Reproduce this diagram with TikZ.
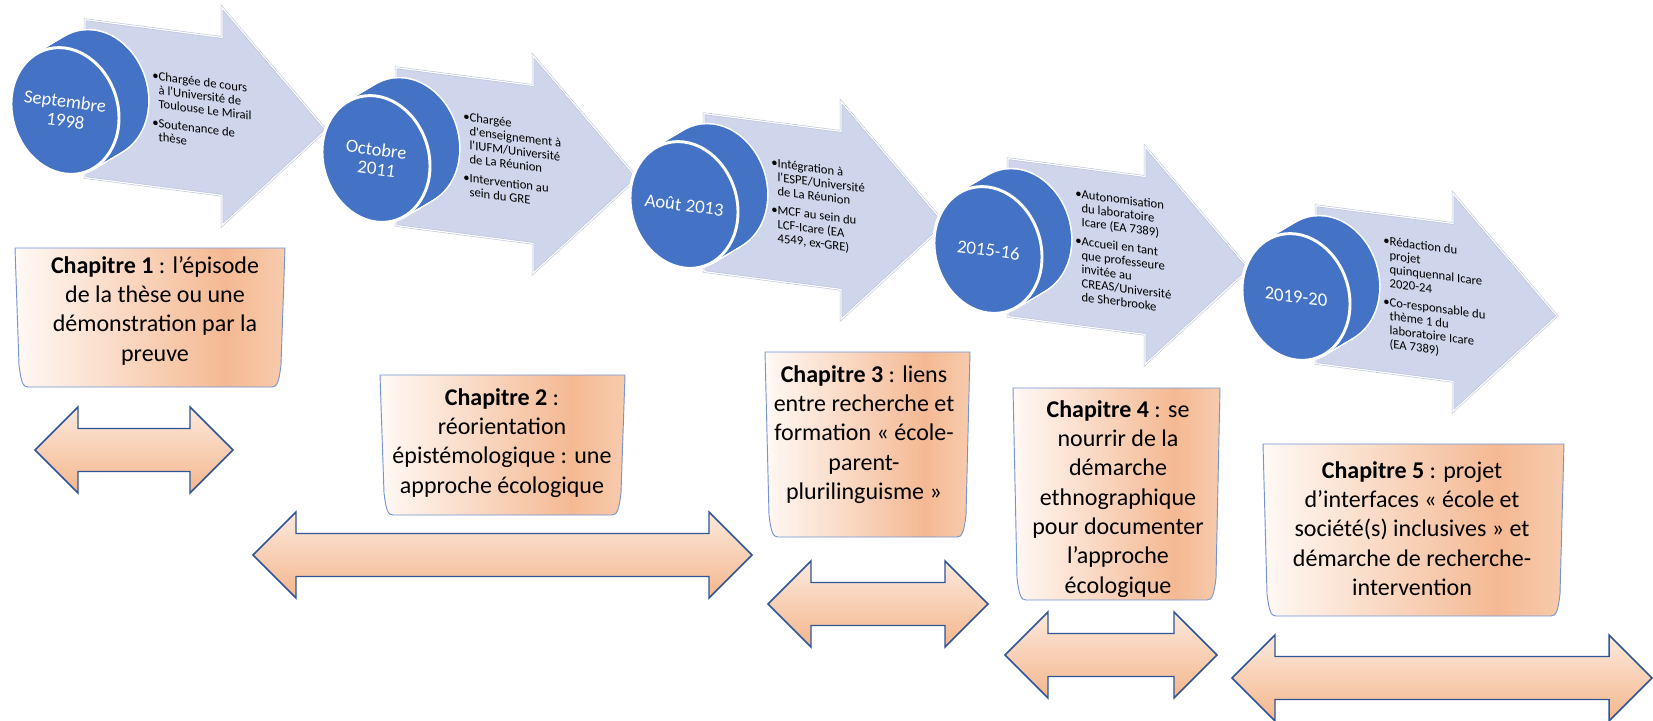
\documentclass[tikz,border=0pt]{standalone}
\usepackage{fontspec}
\setmainfont{Carlito}
\usetikzlibrary{calc,positioning}
\definecolor{discblue}{HTML}{4472C4}
\definecolor{stepfill}{HTML}{CFD5EA}
\definecolor{stepedge}{HTML}{B9C1D9}
\definecolor{chapA}{HTML}{FFF9F5}
\definecolor{chapB}{HTML}{F4B993}
\definecolor{chapC}{HTML}{F7CBAD}
\definecolor{chapline}{HTML}{7395D3}
\definecolor{spanA}{HTML}{FCE9DD}
\definecolor{spanB}{HTML}{F4B68C}
\definecolor{spanline}{HTML}{2F5597}
\pgfdeclarehorizontalshading{chapshade}{100bp}{color(0bp)=(chapA); color(25bp)=(chapA); color(64bp)=(chapB); color(75bp)=(chapC); color(100bp)=(chapC)}
\tikzset{
  steparrow/.style={fill=stepfill, draw=stepedge, double=white, double distance=0.9pt, line join=miter},
  disc/.style={fill=discblue, draw=white, line width=2.2pt},
  datetext/.style={text=white, align=center, inner sep=0pt, font=\fontsize{14}{14.5}\selectfont\itshape},
  bullettext/.style={anchor=west, inner sep=0pt, font=\fontsize{9.5}{10.4}\selectfont},
  chapbox/.style={shade, shading=chapshade, draw=chapline, line width=0.7pt},
  chaptext/.style={anchor=north, align=center, inner sep=0pt, font=\fontsize{18}{22}\selectfont},
  spanarrow/.style={top color=spanA, bottom color=spanB, draw=spanline, line width=1.1pt, line join=miter}
}
\newcommand{\timestep}[6]{%
  \begin{scope}[shift={(#1,#2)}, yslant=-0.13, transform shape]
    \draw[steparrow] (20,-79) -- (157,-79) -- (157,-109) -- (261,0) -- (157,109) -- (157,79) -- (20,79) -- cycle;
    \foreach \t in {0,...,10}
      \draw[white, line width=2.4pt] ({2.9*\t},{15-2.1*\t}) ellipse [x radius=54, y radius=63];
    \foreach \t in {0,...,10}
      \fill[discblue] ({2.9*\t},{15-2.1*\t}) ellipse [x radius=54, y radius=63];
    \draw[disc] (0,15) ellipse [x radius=54, y radius=63];
    \node[datetext, #4] (date#3) at (0,15) {#5};
    \node[bullettext] (info#3) at (87,0) {\begin{tabular}{@{}l@{}l@{}}#6\end{tabular}};
  \end{scope}}
\newcommand{\chapframe}[4]{%
  \draw[chapbox] (#1,#3) -- (#2,#3) -- ({#2-4},{#4-22}) .. controls ({#2-6},{#4-5}) and ({#2-8},#4) .. ({#2-13},#4)
    -- ({#1+13},#4) .. controls ({#1+8},#4) and ({#1+6},{#4-5}) .. ({#1+4},{#4-22}) -- cycle;}
\newcommand{\chapspan}[3]{%
  \draw[spanarrow] (#1,#3) -- ({#1+43},{#3-43}) -- ({#1+43},{#3-21.5}) -- ({#2-43},{#3-21.5}) -- ({#2-43},{#3-43})
    -- (#2,#3) -- ({#2-43},{#3+43}) -- ({#2-43},{#3+21.5}) -- ({#1+43},{#3+21.5}) -- ({#1+43},{#3+43}) -- cycle;}
\newcommand{\sq}{\textquotesingle}

\begin{document}
\begin{tikzpicture}[x=0.75pt,y=-0.75pt]
	\useasboundingbox (0,0) rectangle (1653,721);
	\fill[white] (0,0) rectangle (1653,721);
	\timestep{65}{96}{1}{}{Septembre\\1998}{\textbullet&Chargée de cours\\&à l\sq Université de\\&Toulouse Le Mirail\\[4pt]\textbullet&Soutenance de\\&thèse}
	\timestep{376}{144}{2}{}{Octobre\\2011}{\textbullet&Chargée\\&d\sq enseignement à\\&l\sq IUFM/Université\\&de La Réunion\\[4pt]\textbullet&Intervention au\\&sein du GRE}
	\timestep{684}{190}{3}{}{Août 2013}{\textbullet&Intégration à\\&l\sq ESPE/Université\\&de La Réunion\\[4pt]\textbullet&MCF au sein du\\&LCF-Icare (EA\\&4549, ex-GRE)}
	\timestep{988}{235}{4}{}{2015-16}{\textbullet&Autonomisation\\&du laboratoire\\&Icare (EA 7389)\\[4pt]\textbullet&Accueil en tant\\&que professeure\\&invitée au\\&CREAS/Université\\&de Sherbrooke}
	\timestep{1296}{282}{5}{font=\fontsize{14}{14.5}\selectfont}{2019-20}{\textbullet&Rédaction du\\&projet\\&quinquennal Icare\\&2020-24\\[4pt]\textbullet&Co-responsable du\\&thème 1 du\\&laboratoire Icare\\&(EA 7389)}
	\chapframe{15}{285}{248}{387}
	\node[chaptext] (chap1) at (155,256) {\textbf{Chapitre 1} : l’épisode\\de la thèse ou une\\démonstration par la\\preuve};
	\chapframe{380}{625}{375}{515}
	\node[chaptext] (chap2) at (502,388) {\textbf{Chapitre 2} :\\réorientation\\épistémologique : une\\approche écologique};
	\chapframe{765}{970}{352}{537}
	\node[chaptext] (chap3) at (864,365) {\textbf{Chapitre 3} : liens\\entre recherche et\\formation « école-\\parent-\\plurilinguisme »};
	\chapframe{1013}{1220}{388}{600}
	\node[chaptext] (chap4) at (1118,400) {\textbf{Chapitre 4} : se\\nourrir de la\\démarche\\ethnographique\\pour documenter\\l’approche\\écologique};
	\chapframe{1263}{1564}{444}{616}
	\node[chaptext] (chap5) at (1412,461) {\textbf{Chapitre 5} : projet\\d’interfaces « école et\\société(s) inclusives » et\\démarche de recherche-\\intervention};
	\chapspan{35}{233}{450}
	\chapspan{253}{752}{555}
	\chapspan{768}{988}{604}
	\chapspan{1005}{1217}{655}
	\chapspan{1232}{1652}{678}
\end{tikzpicture}
\end{document}
